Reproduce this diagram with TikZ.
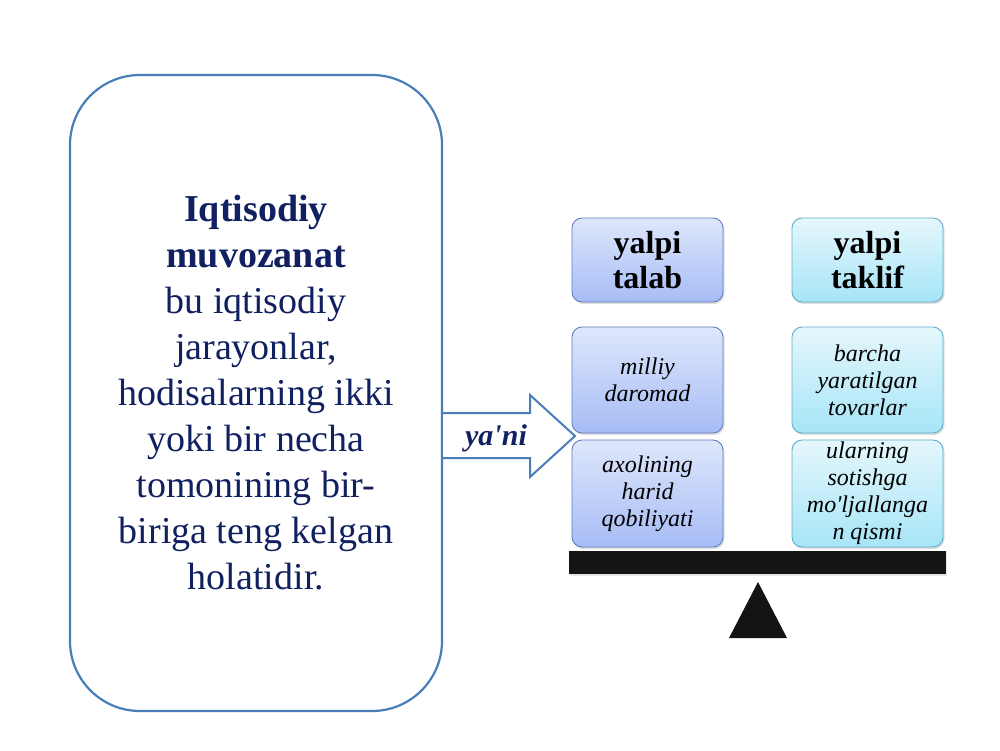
\documentclass[tikz,border=0pt]{standalone}
\usepackage{fontspec}
\setmainfont{Liberation Serif}[Ligatures=TeXOff]
\usetikzlibrary{shadows}
\definecolor{navy}{RGB}{16,32,96}
\definecolor{boxblue}{RGB}{74,126,187}
\definecolor{lbtop}{RGB}{222,231,251}
\definecolor{lbbot}{RGB}{166,188,245}
\definecolor{lbdraw}{RGB}{95,125,190}
\definecolor{cytop}{RGB}{229,247,252}
\definecolor{cybot}{RGB}{166,229,247}
\definecolor{cydraw}{RGB}{95,172,200}
\definecolor{beamcol}{RGB}{20,20,20}
\tikzset{
  mainbox/.style={draw=boxblue, line width=2.2pt, rounded corners=70pt, minimum width=372pt, minimum height=636pt, align=center, text=navy, font=\fontsize{38}{46}\selectfont, inner sep=0pt},
  sbox/.style={rounded corners=10pt, line width=0.9pt, minimum width=151pt, align=center, inner sep=1pt, drop shadow={shadow xshift=1.5pt, shadow yshift=-2pt, opacity=0.25}},
  bluebox/.style={sbox, top color=lbtop, bottom color=lbbot, draw=lbdraw},
  cyanbox/.style={sbox, top color=cytop, bottom color=cybot, draw=cydraw},
  headtxt/.style={font=\fontsize{32}{35}\selectfont\bfseries, minimum height=84pt},
  itemtxt/.style={font=\fontsize{24}{27}\selectfont\itshape},
}
\begin{document}
\begin{tikzpicture}[x=1pt,y=-1pt]
\useasboundingbox (0,0) rectangle (1000,750);
\fill[white] (0,0) rectangle (1000,750);

\node[mainbox] (main) at (256,393) {\textbf{Iqtisodiy}\\\textbf{muvozanat}\\bu iqtisodiy\\jarayonlar,\\hodisalarning ikki\\yoki bir necha\\tomonining bir-\\biriga teng kelgan\\holatidir.};

% block arrow
\coordinate (a1) at (443.2,413);
\coordinate (a7) at (443.2,458);
\fill[white] (a1) -- (530,413) -- (530,395) -- (575,436) -- (530,477) -- (530,458) -- (a7) -- cycle;
\draw[boxblue, line width=2pt, line join=miter] (a1) -- (530,413) -- (530,395) -- (575,436) -- (530,477) -- (530,458) -- (a7);
\node[text=navy, font=\fontsize{30}{32}\selectfont\bfseries\itshape] (yani) at (496,438) {ya'ni};

\node[bluebox, headtxt] (talab) at (647.5,260) {yalpi\\talab};
\node[cyanbox, headtxt] (taklif) at (867.5,260) {yalpi\\taklif};

\node[bluebox, itemtxt, minimum height=106pt] (milliy) at (647.5,380) {milliy\\daromad};
\node[bluebox, itemtxt, minimum height=107pt] (axol) at (647.5,493.5) {axolining\\harid\\qobiliyati};
\node[cyanbox, itemtxt, minimum height=106pt] (barcha) at (867.5,380) {barcha\\yaratilgan\\tovarlar};
\node[cyanbox, itemtxt, minimum height=107pt] (ular) at (867.5,493.5) {ularning\\sotishga\\mo'ljallanga\\n qismi};

\node[fill=beamcol, minimum width=377pt, minimum height=23pt, inner sep=0pt, drop shadow={shadow xshift=1pt, shadow yshift=-1.5pt, opacity=0.2}] (beam) at (757.5,562.5) {};
\coordinate (apex) at (758,582);
\fill[beamcol] (apex) -- (787,638) -- (729,638) -- cycle;
\end{tikzpicture}
\end{document}
